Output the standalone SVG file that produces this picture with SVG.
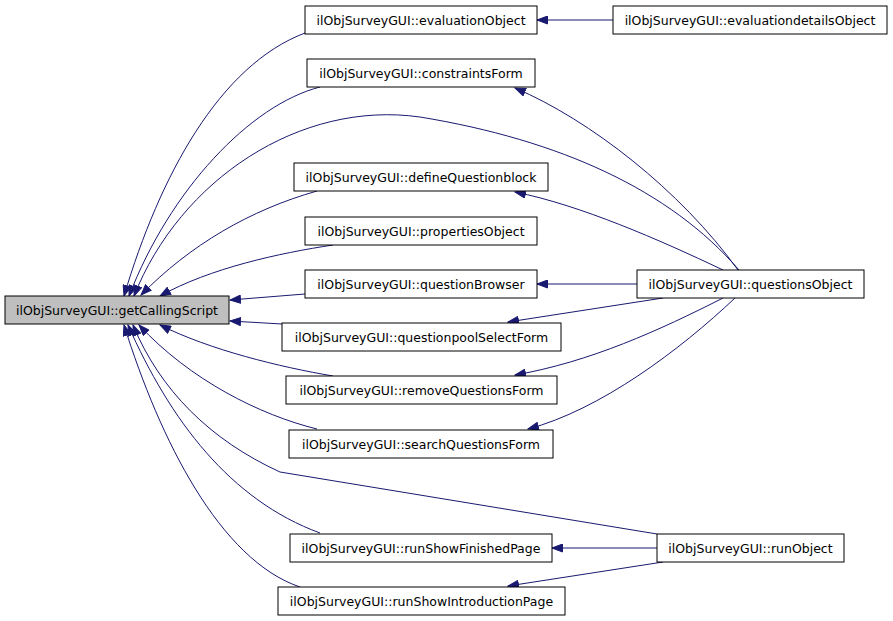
<svg xmlns="http://www.w3.org/2000/svg" width="893" height="621" viewBox="0 0 893 621">
<style>
.n rect{fill:#fff;stroke:#000;stroke-width:1}
.n text{font-family:"DejaVu Sans",sans-serif;font-size:12.5px;fill:#000;text-anchor:middle}
#edges path{fill:none;stroke:#191970;stroke-width:1;marker-end:url(#ah)}
</style>
<defs>
<marker id="ah" markerUnits="userSpaceOnUse" markerWidth="12" markerHeight="9" refX="11" refY="4.5" orient="auto">
<path d="M0.5,0.5 L11,4.5 L0.5,8.5 z" fill="#191970" stroke="#191970" stroke-width="1"/>
</marker>
</defs>
<rect width="893" height="621" fill="#fff"/>
<g id="edges">
<path d="M305,33 C220,65 160,175 124,296"/>
<path d="M320,87 C250,105 170,190 129,296"/>
<path d="M739,270 C670,190 560,140 420,117 C300,100 180,180 134,296"/>
<path d="M317,191 C250,210 190,245 141,295"/>
<path d="M333,245 C280,253 210,268 160,296"/>
<path d="M305,294 L230,300"/>
<path d="M282,324 L230,321"/>
<path d="M333,376 C280,367 210,350 160,325"/>
<path d="M317,429 C260,415 190,380 139,325"/>
<path d="M657,534 L280,472 C210,440 160,390 133,325"/>
<path d="M320,533 C230,500 170,420 128,325"/>
<path d="M300,587 C220,560 160,440 124,325"/>
<path d="M613,20 L537,20"/>
<path d="M738,270 C680,190 590,120 515,88"/>
<path d="M723,270 C660,240 580,205 515,192"/>
<path d="M637,284 L537,284"/>
<path d="M663,298 L508,322"/>
<path d="M723,298 C660,330 590,362 515,375"/>
<path d="M735,298 C680,350 600,410 528,429"/>
<path d="M657,548 L552,548"/>
<path d="M663,562 L508,586"/>
</g>
<g id="getCallingScript" class="n"><rect x="5" y="296" width="224" height="28" style="fill:#bfbfbf"/><text x="117" y="314.5">ilObjSurveyGUI::getCallingScript</text></g>
<g id="evaluationObject" class="n"><rect x="305" y="6" width="232" height="28"/><text x="421" y="24.5">ilObjSurveyGUI::evaluationObject</text></g>
<g id="evaluationdetailsObject" class="n"><rect x="613" y="6" width="274" height="28"/><text x="750" y="24.5">ilObjSurveyGUI::evaluationdetailsObject</text></g>
<g id="constraintsForm" class="n"><rect x="307" y="59" width="228" height="28"/><text x="421" y="77.5">ilObjSurveyGUI::constraintsForm</text></g>
<g id="defineQuestionblock" class="n"><rect x="294" y="163" width="254" height="28"/><text x="421" y="181.5">ilObjSurveyGUI::defineQuestionblock</text></g>
<g id="propertiesObject" class="n"><rect x="305" y="217" width="232" height="28"/><text x="421" y="235.5">ilObjSurveyGUI::propertiesObject</text></g>
<g id="questionBrowser" class="n"><rect x="305" y="270" width="232" height="28"/><text x="421" y="288.5">ilObjSurveyGUI::questionBrowser</text></g>
<g id="questionsObject" class="n"><rect x="637" y="270" width="227" height="28"/><text x="750.5" y="288.5">ilObjSurveyGUI::questionsObject</text></g>
<g id="questionpoolSelectForm" class="n"><rect x="282" y="323" width="279" height="28"/><text x="421.5" y="341.5">ilObjSurveyGUI::questionpoolSelectForm</text></g>
<g id="removeQuestionsForm" class="n"><rect x="286" y="376" width="271" height="28"/><text x="421.5" y="394.5">ilObjSurveyGUI::removeQuestionsForm</text></g>
<g id="searchQuestionsForm" class="n"><rect x="289" y="430" width="264" height="28"/><text x="421" y="448.5">ilObjSurveyGUI::searchQuestionsForm</text></g>
<g id="runShowFinishedPage" class="n"><rect x="290" y="534" width="262" height="28"/><text x="421" y="552.5">ilObjSurveyGUI::runShowFinishedPage</text></g>
<g id="runShowIntroductionPage" class="n"><rect x="278" y="587" width="287" height="28"/><text x="421.5" y="605.5">ilObjSurveyGUI::runShowIntroductionPage</text></g>
<g id="runObject" class="n"><rect x="657" y="534" width="187" height="28"/><text x="750.5" y="552.5">ilObjSurveyGUI::runObject</text></g>
</svg>
